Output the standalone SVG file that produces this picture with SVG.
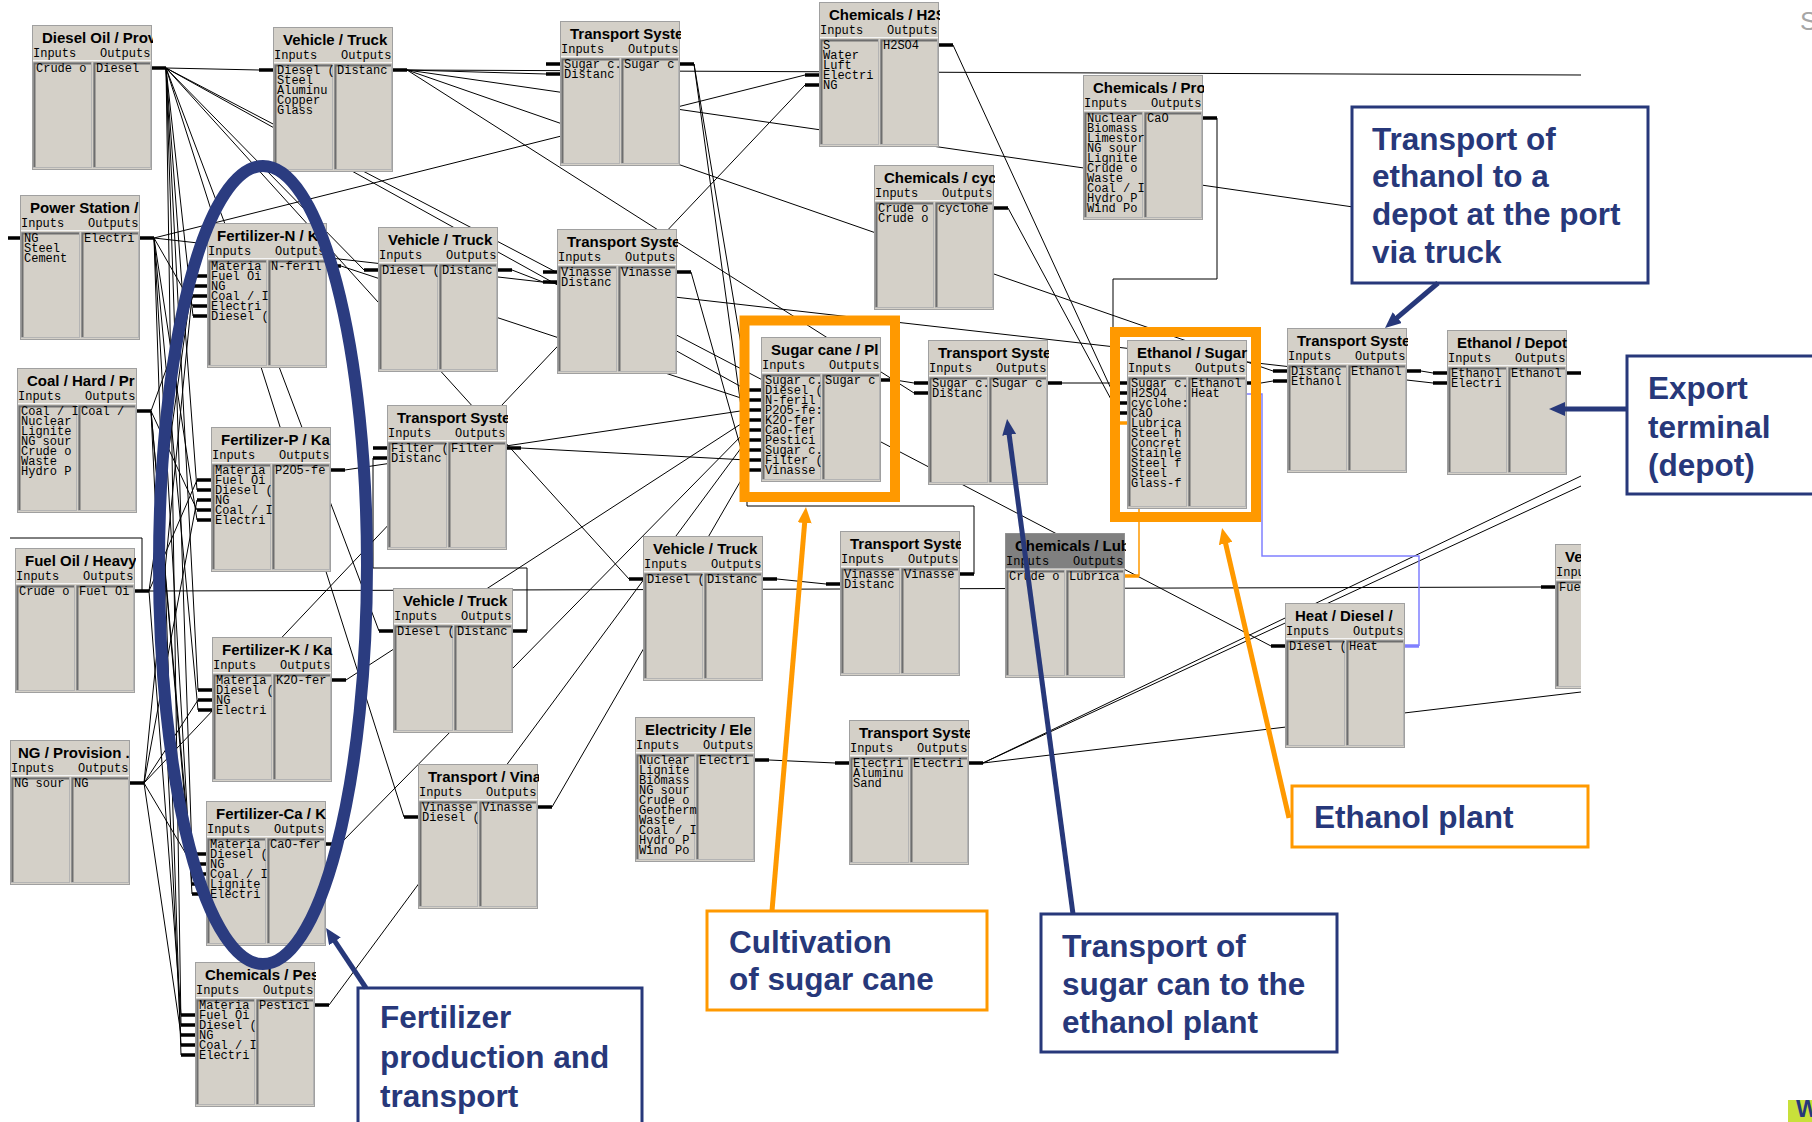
<svg xmlns="http://www.w3.org/2000/svg" xmlns:xlink="http://www.w3.org/1999/xlink" width="1812" height="1122" viewBox="0 0 1812 1122">
<style>
.bx{fill:#d4d0c8;stroke:#a0a0a0;stroke-width:1}
.pn{fill:#d4d0c8;stroke:#b4b4b4;stroke-width:1}
.pd{fill:none;stroke:#6e6e6e;stroke-width:2}
.sp{fill:none;stroke:#f4f4f4;stroke-width:1}
.t{font-family:"Liberation Sans",Arial,sans-serif;font-weight:bold;font-size:15px;fill:#000}
.io,.it{font-family:"Liberation Mono","Courier New",monospace;font-size:12px;fill:#000}
.c{fill:none;stroke:#000;stroke-width:1}
.st{fill:none;stroke:#000;stroke-width:3.5}
.ost{fill:none;stroke:#ff9900;stroke-width:3.5}
.bst{fill:none;stroke:#8080ff;stroke-width:3.5}
.oc{fill:none;stroke:#ff9900;stroke-width:1.5}
.bc{fill:none;stroke:#8080ff;stroke-width:1.5}
.hl{fill:none;stroke:#ff9900;stroke-width:10}
.ann{font-family:"Liberation Sans",Arial,sans-serif;font-weight:bold;font-size:31.5px;fill:#27387a}
.nb{fill:#fff;stroke:#27387a;stroke-width:3}
.ob{fill:#fff;stroke:#ff9900;stroke-width:3}
.na{fill:none;stroke:#27387a;stroke-width:5}
.oa{fill:none;stroke:#ff9900;stroke-width:5}
</style>
<defs>
<g id="fr">
<rect class="bx" x="0.5" y="0.5" width="119" height="144"/>
<path class="sp" d="M1,35.5H119"/>
<rect class="pn" x="1.5" y="37.5" width="58" height="105"/>
<rect class="pn" x="61.5" y="37.5" width="57" height="105"/>
<path class="pd" d="M2.5,142V38.5H59M62.5,142V38.5H118"/>
</g>
<g id="frL">
<rect class="bx" x="0.5" y="0.5" width="119" height="168"/>
<path class="sp" d="M1,35.5H119"/>
<rect class="pn" x="1.5" y="37.5" width="58" height="129"/>
<rect class="pn" x="61.5" y="37.5" width="57" height="129"/>
<path class="pd" d="M2.5,166V38.5H59M62.5,166V38.5H118"/>
</g>
<marker id="an" markerUnits="userSpaceOnUse" markerWidth="16" markerHeight="14" refX="2" refY="7" orient="auto" viewBox="0 0 16 14"><path d="M0,0L16,7L0,14z" fill="#27387a"/></marker>
<marker id="ao" markerUnits="userSpaceOnUse" markerWidth="16" markerHeight="14" refX="2" refY="7" orient="auto" viewBox="0 0 16 14"><path d="M0,0L16,7L0,14z" fill="#ff9900"/></marker>
</defs>
<rect width="1812" height="1122" fill="#fff"/>

<g id="connectors">
<path class="c" d="M166,68L259,70M166,68L193,316M166,68L197,490M166,68L198,690M166,68L192,854M166,68L181,1025M166,68L364,270M166,68L379,631M166,68L629,579M166,68L404,817M166,68L747,390M166,68L1271,646"/>
<path class="c" d="M407,70L546,74M407,70L914,393M407,70L1273,371M407,70L1581,240M407,70L1581,75"/>
<path class="c" d="M154,238L805,75M154,238L1433,383M154,238L193,306M154,238L197,520M154,238L198,710M154,238L192,894M154,238L181,1055"/>
<path class="c" d="M144,783L805,85M144,783L193,286M144,783L197,500M144,783L198,700M144,783L192,864M144,783L181,1035"/>
<path class="c" d="M151,411L193,296M151,411L197,510M151,411L192,874M151,411L192,884M151,411L181,1045"/>
<path class="c" d="M149,591L193,276M149,591L197,480M149,591L181,1015M149,591L1541,587"/>
<path class="c" d="M341,266L747,400M345,470L747,410M346,680L747,420M340,844L747,430M329,1005L747,440"/>
<path class="c" d="M694,64L747,380M694,64L747,450M521,448L747,460M691,272L747,470M552,807L747,470M974,574V506H747V470"/>
<path class="c" d="M512,270L543,282M527,631V568H373V458M777,579L826,584M895,380L914,383M1062,383L1113,383"/>
<path class="c" d="M953,45L1113,393M1008,208L1113,403M1217,118V279H1113V413"/>
<path class="c" d="M1261,383L1273,381M1421,371L1433,373M769,760L835,763M983,763L1581,476M983,763L1581,486M983,763L1581,692M10,538H142V591"/>
<path class="oc" d="M1139,576V423H1113"/>
<path class="bc" d="M1247,394H1262V556H1419V646"/>
</g>

<g id="n-diesel-oil"><svg x="32" y="25" width="121" height="146"><use xlink:href="#fr"/><text class="t" x="10" y="18">Diesel Oil / Prov</text><text class="io" x="1" y="32">Inputs</text><text class="io" x="68" y="32">Outputs</text><text class="it" x="4" y="47">Crude o</text><text class="it" x="64" y="47">Diesel</text></svg><path class="st" d="M152,68h14"/></g>

<g id="n-vehicle-1"><svg x="273" y="27" width="121" height="146"><use xlink:href="#fr"/><text class="t" x="10" y="18">Vehicle / Truck</text><text class="io" x="1" y="32">Inputs</text><text class="io" x="68" y="32">Outputs</text><text class="it" x="4" y="47">Diesel (<tspan x="4" dy="10">Steel</tspan><tspan x="4" dy="10">Aluminu</tspan><tspan x="4" dy="10">Copper</tspan><tspan x="4" dy="10">Glass</tspan></text><text class="it" x="64" y="47">Distanc</text></svg><path class="st" d="M259,70h14M393,70h14"/></g>

<g id="n-transport-1"><svg x="560" y="21" width="121" height="146"><use xlink:href="#fr"/><text class="t" x="10" y="18">Transport Syste</text><text class="io" x="1" y="32">Inputs</text><text class="io" x="68" y="32">Outputs</text><text class="it" x="4" y="47">Sugar c.<tspan x="4" dy="10">Distanc</tspan></text><text class="it" x="64" y="47">Sugar c</text></svg><path class="st" d="M546,64h14M546,74h14M680,64h14"/></g>

<g id="n-chem-h2s"><svg x="819" y="2" width="121" height="146"><use xlink:href="#fr"/><text class="t" x="10" y="18">Chemicals / H2S</text><text class="io" x="1" y="32">Inputs</text><text class="io" x="68" y="32">Outputs</text><text class="it" x="4" y="47">S<tspan x="4" dy="10">Water</tspan><tspan x="4" dy="10">Luft</tspan><tspan x="4" dy="10">Electri</tspan><tspan x="4" dy="10">NG</tspan></text><text class="it" x="64" y="47">H2SO4</text></svg><path class="st" d="M805,75h14M805,85h14M939,45h14"/></g>

<g id="n-chem-pro"><svg x="1083" y="75" width="121" height="146"><use xlink:href="#fr"/><text class="t" x="10" y="18">Chemicals / Pro</text><text class="io" x="1" y="32">Inputs</text><text class="io" x="68" y="32">Outputs</text><text class="it" x="4" y="47">Nuclear<tspan x="4" dy="10">Biomass</tspan><tspan x="4" dy="10">Limestor</tspan><tspan x="4" dy="10">NG sour</tspan><tspan x="4" dy="10">Lignite</tspan><tspan x="4" dy="10">Crude o</tspan><tspan x="4" dy="10">Waste</tspan><tspan x="4" dy="10">Coal / I</tspan><tspan x="4" dy="10">Hydro P</tspan><tspan x="4" dy="10">Wind Po</tspan></text><text class="it" x="64" y="47">CaO</text></svg><path class="st" d="M1203,118h14"/></g>

<g id="n-chem-cyc"><svg x="874" y="165" width="121" height="146"><use xlink:href="#fr"/><text class="t" x="10" y="18">Chemicals / cyc</text><text class="io" x="1" y="32">Inputs</text><text class="io" x="68" y="32">Outputs</text><text class="it" x="4" y="47">Crude o<tspan x="4" dy="10">Crude o</tspan></text><text class="it" x="64" y="47">cyclohe</text></svg><path class="st" d="M994,208h14"/></g>

<g id="n-power"><svg x="20" y="195" width="121" height="146"><use xlink:href="#fr"/><text class="t" x="10" y="18">Power Station /</text><text class="io" x="1" y="32">Inputs</text><text class="io" x="68" y="32">Outputs</text><text class="it" x="4" y="47">NG<tspan x="4" dy="10">Steel</tspan><tspan x="4" dy="10">Cement</tspan></text><text class="it" x="64" y="47">Electri</text></svg><path class="st" d="M8,238h12M140,238h14"/></g>

<g id="n-fert-n"><svg x="207" y="223" width="121" height="146"><use xlink:href="#fr"/><text class="t" x="10" y="18">Fertilizer-N / K</text><text class="io" x="1" y="32">Inputs</text><text class="io" x="68" y="32">Outputs</text><text class="it" x="4" y="47">Materia<tspan x="4" dy="10">Fuel Oi</tspan><tspan x="4" dy="10">NG</tspan><tspan x="4" dy="10">Coal / I</tspan><tspan x="4" dy="10">Electri</tspan><tspan x="4" dy="10">Diesel (</tspan></text><text class="it" x="64" y="47">N-feril</text></svg><path class="st" d="M193,276h14M193,286h14M193,296h14M193,306h14M193,316h14M327,266h14"/></g>

<g id="n-vehicle-2"><svg x="378" y="227" width="121" height="146"><use xlink:href="#fr"/><text class="t" x="10" y="18">Vehicle / Truck</text><text class="io" x="1" y="32">Inputs</text><text class="io" x="68" y="32">Outputs</text><text class="it" x="4" y="47">Diesel (</text><text class="it" x="64" y="47">Distanc</text></svg><path class="st" d="M364,270h14M498,270h14"/></g>

<g id="n-transport-2"><svg x="557" y="229" width="121" height="146"><use xlink:href="#fr"/><text class="t" x="10" y="18">Transport Syste</text><text class="io" x="1" y="32">Inputs</text><text class="io" x="68" y="32">Outputs</text><text class="it" x="4" y="47">Vinasse<tspan x="4" dy="10">Distanc</tspan></text><text class="it" x="64" y="47">Vinasse</text></svg><path class="st" d="M543,272h14M543,282h14M677,272h14"/></g>

<g id="n-sugarcane"><svg x="761" y="337" width="121" height="146"><use xlink:href="#fr"/><text class="t" x="10" y="18">Sugar cane / Pl</text><text class="io" x="1" y="32">Inputs</text><text class="io" x="68" y="32">Outputs</text><text class="it" x="4" y="47">Sugar c.<tspan x="4" dy="10">Diesel (</tspan><tspan x="4" dy="10">N-feril</tspan><tspan x="4" dy="10">P2O5-fe:</tspan><tspan x="4" dy="10">K2O-fer</tspan><tspan x="4" dy="10">CaO-fer</tspan><tspan x="4" dy="10">Pestici</tspan><tspan x="4" dy="10">Sugar c.</tspan><tspan x="4" dy="10">Filter (</tspan><tspan x="4" dy="10">Vinasse</tspan></text><text class="it" x="64" y="47">Sugar c</text></svg><path class="st" d="M747,390h14M747,400h14M747,410h14M747,420h14M747,430h14M747,440h14M747,450h14M747,460h14M747,470h14M881,380h14"/></g>

<g id="n-coal"><svg x="17" y="368" width="121" height="146"><use xlink:href="#fr"/><text class="t" x="10" y="18">Coal / Hard / Pr</text><text class="io" x="1" y="32">Inputs</text><text class="io" x="68" y="32">Outputs</text><text class="it" x="4" y="47">Coal / I<tspan x="4" dy="10">Nuclear</tspan><tspan x="4" dy="10">Lignite</tspan><tspan x="4" dy="10">NG sour</tspan><tspan x="4" dy="10">Crude o</tspan><tspan x="4" dy="10">Waste</tspan><tspan x="4" dy="10">Hydro P</tspan></text><text class="it" x="64" y="47">Coal /</text></svg><path class="st" d="M137,411h14"/></g>

<g id="n-fert-p"><svg x="211" y="427" width="121" height="146"><use xlink:href="#fr"/><text class="t" x="10" y="18">Fertilizer-P / Ka</text><text class="io" x="1" y="32">Inputs</text><text class="io" x="68" y="32">Outputs</text><text class="it" x="4" y="47">Materia<tspan x="4" dy="10">Fuel Oi</tspan><tspan x="4" dy="10">Diesel (</tspan><tspan x="4" dy="10">NG</tspan><tspan x="4" dy="10">Coal / I</tspan><tspan x="4" dy="10">Electri</tspan></text><text class="it" x="64" y="47">P2O5-fe</text></svg><path class="st" d="M197,480h14M197,490h14M197,500h14M197,510h14M197,520h14M331,470h14"/></g>

<g id="n-transport-filter"><svg x="387" y="405" width="121" height="146"><use xlink:href="#fr"/><text class="t" x="10" y="18">Transport Syste</text><text class="io" x="1" y="32">Inputs</text><text class="io" x="68" y="32">Outputs</text><text class="it" x="4" y="47">Filter (<tspan x="4" dy="10">Distanc</tspan></text><text class="it" x="64" y="47">Filter</text></svg><path class="st" d="M373,448h14M373,458h14M507,448h14"/></g>

<g id="n-fuel-oil"><svg x="15" y="548" width="121" height="146"><use xlink:href="#fr"/><text class="t" x="10" y="18">Fuel Oil / Heavy</text><text class="io" x="1" y="32">Inputs</text><text class="io" x="68" y="32">Outputs</text><text class="it" x="4" y="47">Crude o</text><text class="it" x="64" y="47">Fuel Oi</text></svg><path class="st" d="M135,591h14"/></g>

<g id="n-vehicle-3"><svg x="393" y="588" width="121" height="146"><use xlink:href="#fr"/><text class="t" x="10" y="18">Vehicle / Truck</text><text class="io" x="1" y="32">Inputs</text><text class="io" x="68" y="32">Outputs</text><text class="it" x="4" y="47">Diesel (</text><text class="it" x="64" y="47">Distanc</text></svg><path class="st" d="M379,631h14M513,631h14"/></g>

<g id="n-fert-k"><svg x="212" y="637" width="121" height="146"><use xlink:href="#fr"/><text class="t" x="10" y="18">Fertilizer-K / Ka</text><text class="io" x="1" y="32">Inputs</text><text class="io" x="68" y="32">Outputs</text><text class="it" x="4" y="47">Materia<tspan x="4" dy="10">Diesel (</tspan><tspan x="4" dy="10">NG</tspan><tspan x="4" dy="10">Electri</tspan></text><text class="it" x="64" y="47">K2O-fer</text></svg><path class="st" d="M198,690h14M198,700h14M198,710h14M332,680h14"/></g>

<g id="n-ng"><svg x="10" y="740" width="121" height="146"><use xlink:href="#fr"/><text class="t" x="8" y="18">NG / Provision .</text><text class="io" x="1" y="32">Inputs</text><text class="io" x="68" y="32">Outputs</text><text class="it" x="4" y="47">NG sour</text><text class="it" x="64" y="47">NG</text></svg><path class="st" d="M130,783h14"/></g>

<g id="n-fert-ca"><svg x="206" y="801" width="121" height="146"><use xlink:href="#fr"/><text class="t" x="10" y="18">Fertilizer-Ca / K</text><text class="io" x="1" y="32">Inputs</text><text class="io" x="68" y="32">Outputs</text><text class="it" x="4" y="47">Materia<tspan x="4" dy="10">Diesel (</tspan><tspan x="4" dy="10">NG</tspan><tspan x="4" dy="10">Coal / I</tspan><tspan x="4" dy="10">Lignite</tspan><tspan x="4" dy="10">Electri</tspan></text><text class="it" x="64" y="47">CaO-fer</text></svg><path class="st" d="M192,854h14M192,864h14M192,874h14M192,884h14M192,894h14M326,844h14"/></g>

<g id="n-chem-pes"><svg x="195" y="962" width="121" height="146"><use xlink:href="#fr"/><text class="t" x="10" y="18">Chemicals / Pes</text><text class="io" x="1" y="32">Inputs</text><text class="io" x="68" y="32">Outputs</text><text class="it" x="4" y="47">Materia<tspan x="4" dy="10">Fuel Oi</tspan><tspan x="4" dy="10">Diesel (</tspan><tspan x="4" dy="10">NG</tspan><tspan x="4" dy="10">Coal / I</tspan><tspan x="4" dy="10">Electri</tspan></text><text class="it" x="64" y="47">Pestici</text></svg><path class="st" d="M181,1015h14M181,1025h14M181,1035h14M181,1045h14M181,1055h14M315,1005h14"/></g>

<g id="n-vehicle-4"><svg x="643" y="536" width="121" height="146"><use xlink:href="#fr"/><text class="t" x="10" y="18">Vehicle / Truck</text><text class="io" x="1" y="32">Inputs</text><text class="io" x="68" y="32">Outputs</text><text class="it" x="4" y="47">Diesel (</text><text class="it" x="64" y="47">Distanc</text></svg><path class="st" d="M629,579h14M763,579h14"/></g>

<g id="n-transport-vinasse"><svg x="840" y="531" width="121" height="146"><use xlink:href="#fr"/><text class="t" x="10" y="18">Transport Syste</text><text class="io" x="1" y="32">Inputs</text><text class="io" x="68" y="32">Outputs</text><text class="it" x="4" y="47">Vinasse<tspan x="4" dy="10">Distanc</tspan></text><text class="it" x="64" y="47">Vinasse</text></svg><path class="st" d="M826,584h14M960,574h14"/></g>

<g id="n-transport-sugar"><svg x="928" y="340" width="121" height="146"><use xlink:href="#fr"/><text class="t" x="10" y="18">Transport Syste</text><text class="io" x="1" y="32">Inputs</text><text class="io" x="68" y="32">Outputs</text><text class="it" x="4" y="47">Sugar c.<tspan x="4" dy="10">Distanc</tspan></text><text class="it" x="64" y="47">Sugar c</text></svg><path class="st" d="M914,383h14M914,393h14M1048,383h14"/></g>

<g id="n-chem-lub"><svg x="1005" y="533" width="121" height="146"><use xlink:href="#fr"/><rect x="0.5" y="0.5" width="119" height="35" fill="#808080"/><text class="t" x="10" y="18">Chemicals / Lub</text><text class="io" x="1" y="32">Inputs</text><text class="io" x="68" y="32">Outputs</text><text class="it" x="4" y="47">Crude o</text><text class="it" x="64" y="47">Lubrica</text></svg><path class="ost" d="M1125,576h14"/></g>

<g id="n-ethanol"><svg x="1127" y="340" width="121" height="170"><use xlink:href="#frL"/><text class="t" x="10" y="18">Ethanol / Sugar</text><text class="io" x="1" y="32">Inputs</text><text class="io" x="68" y="32">Outputs</text><text class="it" x="4" y="47">Sugar c.<tspan x="4" dy="10">H2SO4</tspan><tspan x="4" dy="10">cyclohe:</tspan><tspan x="4" dy="10">CaO</tspan><tspan x="4" dy="10">Lubrica</tspan><tspan x="4" dy="10">Steel h</tspan><tspan x="4" dy="10">Concret</tspan><tspan x="4" dy="10">Stainle</tspan><tspan x="4" dy="10">Steel f</tspan><tspan x="4" dy="10">Steel</tspan><tspan x="4" dy="10">Glass-f</tspan></text><text class="it" x="64" y="47">Ethanol<tspan x="64" dy="10">Heat</tspan></text></svg><path class="st" d="M1113,383h14M1113,393h14M1113,403h14M1113,413h14M1247,383h14"/><path class="ost" d="M1113,423h14"/></g>

<g id="n-transport-ethanol"><svg x="1287" y="328" width="121" height="146"><use xlink:href="#fr"/><text class="t" x="10" y="18">Transport Syste</text><text class="io" x="1" y="32">Inputs</text><text class="io" x="68" y="32">Outputs</text><text class="it" x="4" y="47">Distanc<tspan x="4" dy="10">Ethanol</tspan></text><text class="it" x="64" y="47">Ethanol</text></svg><path class="st" d="M1273,371h14M1273,381h14M1407,371h14"/></g>

<g id="n-depot"><svg x="1447" y="330" width="121" height="146"><use xlink:href="#fr"/><text class="t" x="10" y="18">Ethanol / Depot</text><text class="io" x="1" y="32">Inputs</text><text class="io" x="68" y="32">Outputs</text><text class="it" x="4" y="47">Ethanol<tspan x="4" dy="10">Electri</tspan></text><text class="it" x="64" y="47">Ethanol</text></svg><path class="st" d="M1433,373h14M1433,383h14M1567,373h14"/></g>

<g id="n-heat"><svg x="1285" y="603" width="121" height="146"><use xlink:href="#fr"/><text class="t" x="10" y="18">Heat / Diesel /</text><text class="io" x="1" y="32">Inputs</text><text class="io" x="68" y="32">Outputs</text><text class="it" x="4" y="47">Diesel (</text><text class="it" x="64" y="47">Heat</text></svg><path class="st" d="M1271,646h14"/><path class="bst" d="M1405,646h14"/></g>

<g id="n-vehicle-5"><svg x="1555" y="544" width="26" height="146"><use xlink:href="#fr"/><text class="t" x="10" y="18">Ve</text><text class="io" x="1" y="32">Inpu</text><text class="it" x="4" y="47">Fue</text></svg><path class="st" d="M1541,587h14"/></g>

<g id="n-transport-elec"><svg x="849" y="720" width="121" height="146"><use xlink:href="#fr"/><text class="t" x="10" y="18">Transport Syste</text><text class="io" x="1" y="32">Inputs</text><text class="io" x="68" y="32">Outputs</text><text class="it" x="4" y="47">Electri<tspan x="4" dy="10">Aluminu</tspan><tspan x="4" dy="10">Sand</tspan></text><text class="it" x="64" y="47">Electri</text></svg><path class="st" d="M835,763h14M969,763h14"/></g>

<g id="n-electricity"><svg x="635" y="717" width="121" height="146"><use xlink:href="#fr"/><text class="t" x="10" y="18">Electricity / Ele</text><text class="io" x="1" y="32">Inputs</text><text class="io" x="68" y="32">Outputs</text><text class="it" x="4" y="47">Nuclear<tspan x="4" dy="10">Lignite</tspan><tspan x="4" dy="10">Biomass</tspan><tspan x="4" dy="10">NG sour</tspan><tspan x="4" dy="10">Crude o</tspan><tspan x="4" dy="10">Geotherm</tspan><tspan x="4" dy="10">Waste</tspan><tspan x="4" dy="10">Coal / I</tspan><tspan x="4" dy="10">Hydro P</tspan><tspan x="4" dy="10">Wind Po</tspan></text><text class="it" x="64" y="47">Electri</text></svg><path class="st" d="M755,760h14"/></g>

<g id="n-transport-vina"><svg x="418" y="764" width="121" height="146"><use xlink:href="#fr"/><text class="t" x="10" y="18">Transport / Vina</text><text class="io" x="1" y="32">Inputs</text><text class="io" x="68" y="32">Outputs</text><text class="it" x="4" y="47">Vinasse<tspan x="4" dy="10">Diesel (</tspan></text><text class="it" x="64" y="47">Vinasse</text></svg><path class="st" d="M404,817h14M538,807h14"/></g>

<g id="highlights">
<rect class="hl" x="744.5" y="320.5" width="150.5" height="176.5"/>
<rect class="hl" x="1115" y="332" width="141" height="185"/>
</g>

<g id="ann-fertilizer">
<rect class="nb" x="358" y="988" width="284" height="200"/>
<text class="ann" x="380" y="1028">Fertilizer</text>
<text class="ann" x="380" y="1068">production and</text>
<text class="ann" x="380" y="1107">transport</text>
<path class="na" d="M366,988L333.8,939.6" marker-end="url(#an)"/>
</g>
<g id="ann-cultivation">
<rect class="ob" x="707" y="911" width="280" height="99"/>
<text class="ann" x="729" y="953">Cultivation</text>
<text class="ann" x="729" y="990">of sugar cane</text>
<path class="oa" d="M772,911L804.8,521" marker-end="url(#ao)"/>
</g>
<g id="ann-sugar-transport">
<rect class="nb" x="1041" y="914" width="296" height="138"/>
<text class="ann" x="1062" y="957">Transport of</text>
<text class="ann" x="1062" y="995">sugar can to the</text>
<text class="ann" x="1062" y="1033">ethanol plant</text>
<path class="na" d="M1073,914L1008.9,432.9" marker-end="url(#an)"/>
</g>
<g id="ann-ethanol-plant">
<rect class="ob" x="1292" y="786" width="296" height="61"/>
<text class="ann" x="1314" y="828">Ethanol plant</text>
<path class="oa" d="M1289,818L1225.2,541.6" marker-end="url(#ao)"/>
</g>
<g id="ann-ethanol-transport">
<rect class="nb" x="1352" y="107" width="296" height="176"/>
<text class="ann" x="1372" y="150">Transport of</text>
<text class="ann" x="1372" y="187">ethanol to a</text>
<text class="ann" x="1372" y="225">depot at the port</text>
<text class="ann" x="1372" y="263">via truck</text>
<path class="na" d="M1438,283L1395.7,318.9" marker-end="url(#an)"/>
</g>
<g id="ann-export">
<rect class="nb" x="1627" y="356" width="200" height="138"/>
<text class="ann" x="1648" y="399">Export</text>
<text class="ann" x="1648" y="438">terminal</text>
<text class="ann" x="1648" y="476">(depot)</text>
<path class="na" d="M1627,409L1563,409" marker-end="url(#an)"/>
</g>

<ellipse id="fertilizer-ellipse" cx="263" cy="565" rx="104" ry="399" fill="none" stroke="#2b3c80" stroke-width="12"/>

<text x="1800" y="30" font-family="Liberation Sans, Arial, sans-serif" font-size="26" fill="#a6a6a6">S</text>
<rect x="1788" y="1100" width="24" height="22" fill="#c8e03a"/>
<text x="1796" y="1117" font-family="Liberation Sans, Arial, sans-serif" font-weight="bold" font-size="24" fill="#27387a">W</text>
</svg>
